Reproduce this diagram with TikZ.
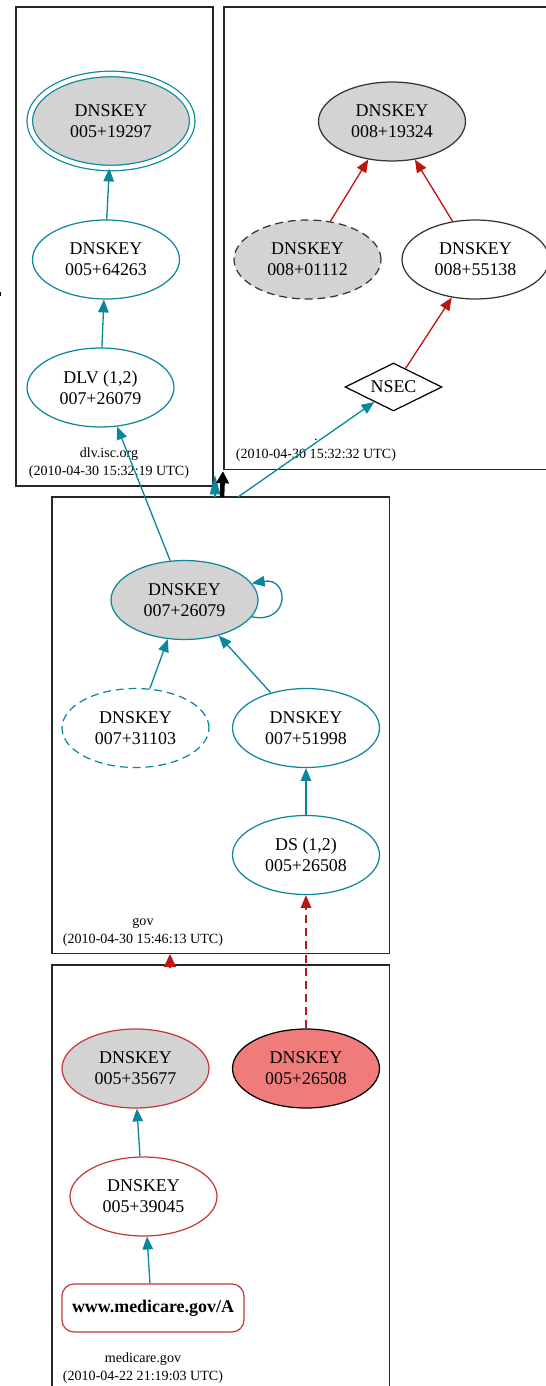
\documentclass[tikz,border=0pt]{standalone}
\usepackage{fontspec}
\setmainfont{Liberation Serif}
\usetikzlibrary{shapes.geometric,arrows.meta}
\definecolor{secure}{HTML}{0A879A}
\definecolor{bogus}{HTML}{BE1515}
\definecolor{keygray}{HTML}{D3D3D3}
\definecolor{badfill}{HTML}{F07B7B}
\definecolor{plain}{HTML}{333333}
\newcommand{\keyfont}{\fontsize{10.2}{12}\selectfont}
\newcommand{\zonefont}{\fontsize{8}{10.2}\selectfont}
\tikzset{
  key/.style={ellipse,inner sep=0pt,minimum width=2.94cm,minimum height=1.58cm,
    align=center,font=\keyfont,line width=0.7pt},
  zone/.style={draw=black!85,line width=0.8pt,inner sep=0pt},
  zonelabel/.style={align=center,font=\zonefont},
  sedge/.style={color=secure,line width=0.75pt,-{Triangle[length=7.3pt,width=6pt]}},
  bedge/.style={color=bogus,line width=0.75pt,-{Triangle[length=7.3pt,width=6pt]}},
  dashkey/.style={dashed,dash pattern=on 4.5pt off 2.8pt}
}
\begin{document}
\begin{tikzpicture}[x=0.02cm,y=-0.02cm]
  \useasboundingbox (0,0) rectangle (546,1386);

  %clusters
  \node[zone,minimum width=3.94cm,minimum height=9.58cm] (cdlv) at (114.5,246.5) {};
  \node[zone,minimum width=6.72cm,minimum height=9.25cm] (croot) at (392,238.25) {};
  \node[zone,minimum width=6.75cm,minimum height=9.13cm] (cgov) at (220.75,725.25) {};
  \node[zone,minimum width=6.75cm,minimum height=8.7cm] (cmed) at (220.75,1182.5) {};

  \node[zonelabel] (ldlv) at (109,463) {dlv.isc.org\\(2010-04-30 15:32:19 UTC)};
  \node[zonelabel] (lroot) at (316,450) {.\\(2010-04-30 15:32:32 UTC)};
  \node[zonelabel] (lgov) at (143,932) {gov\\(2010-04-30 15:46:13 UTC)};
  \node[zonelabel] (lmed) at (143,1368) {medicare.gov\\(2010-04-22 21:19:03 UTC)};

  %nodes dlv.isc.org
  \node[key,draw=secure,fill=keygray,double=white,double distance=0.086cm,
        minimum width=3.25cm,minimum height=1.88cm] (k19297) at (111,121) {DNSKEY\\005+19297};
  \node[key,draw=secure] (k64263) at (106,259.5) {DNSKEY\\005+64263};
  \node[key,draw=secure] (dlv) at (100.5,387.5) {DLV (1,2)\\007+26079};

  %nodes root
  \node[key,draw=plain,fill=keygray] (k19324) at (392,121.5) {DNSKEY\\008+19324};
  \node[key,draw=plain,fill=keygray,dashkey] (k01112) at (307.5,259.5) {DNSKEY\\008+01112};
  \node[key,draw=plain] (k55138) at (475.5,259.5) {DNSKEY\\008+55138};
  \node[diamond,draw=black,line width=0.7pt,inner sep=0pt,aspect=2,minimum width=1.94cm,
        minimum height=0.96cm,font=\keyfont] (nsec) at (393.5,387) {NSEC};

  %nodes gov
  \node[key,draw=secure,fill=keygray] (k26079) at (184.5,600) {DNSKEY\\007+26079};
  \node[key,draw=secure,dashkey] (k31103) at (135.5,728) {DNSKEY\\007+31103};
  \node[key,draw=secure] (k51998) at (306,728) {DNSKEY\\007+51998};
  \node[key,draw=secure] (ds) at (306,855) {DS (1,2)\\005+26508};

  %nodes medicare.gov
  \node[key,draw=bogus!85,fill=keygray] (k35677) at (135.5,1068.5) {DNSKEY\\005+35677};
  \node[key,draw=black,fill=badfill] (k26508) at (306,1068.5) {DNSKEY\\005+26508};
  \node[key,draw=bogus!85] (k39045) at (143.5,1196.5) {DNSKEY\\005+39045};
  \node[rectangle,draw=bogus!85,line width=0.7pt,rounded corners=6.8pt,inner sep=0pt,
        minimum width=3.64cm,minimum height=0.96cm,font=\keyfont\bfseries] (www) at (153,1308) {www.medicare.gov/A};

  %edge ends on cluster borders
  \coordinate (gtop1) at (215,497);  \coordinate (dbot1) at (215,475);
  \coordinate (gtop2) at (222,497);  \coordinate (rbot) at (223,471);
  \coordinate (gtop3) at (238,497);
  \coordinate (mtop) at (170,967);   \coordinate (gbot) at (170,954);

  %edges
  \draw[sedge] (k64263.89) -- (k19297.268);
  \draw[sedge] (dlv.88) -- (k64263.267);
  \draw[bedge] (k01112.59) -- (k19324.238);
  \draw[bedge] (k55138.121) -- (k19324.301);
  \draw[bedge] (nsec.57) -- (k55138.238);
  \draw[sedge] (k26079.110) -- (dlv.293);
  \draw[sedge] (gtop3) -- (nsec.218);
  \draw[sedge] (k26079.-14) .. controls +(38,8) and +(38,-6) .. (k26079.14);
  \draw[sedge] (k31103.70) -- (k26079.247);
  \draw[sedge] (k51998.135) -- (k26079.314);
  \draw[sedge] (ds.north) -- (k51998.south);
  \draw[bedge,dash pattern=on 4.5pt off 3pt] (k26508.north) -- (ds.south);
  \draw[sedge] (k39045.95) -- (k35677.272);
  \draw[sedge] (www.97) -- (k39045.275);
  \draw[sedge,-{Triangle[length=11pt,width=5.8pt]}] (gtop1) -- (dbot1);
  \draw[line width=2.6pt,-{Triangle[length=7pt,width=7pt]}] (gtop2) -- (rbot);
  \draw[bedge,-{Triangle[length=7.5pt,width=7pt]}] (mtop) -- (gbot);

  \fill (0,292) rectangle (1.5,296);
\end{tikzpicture}
\end{document}
